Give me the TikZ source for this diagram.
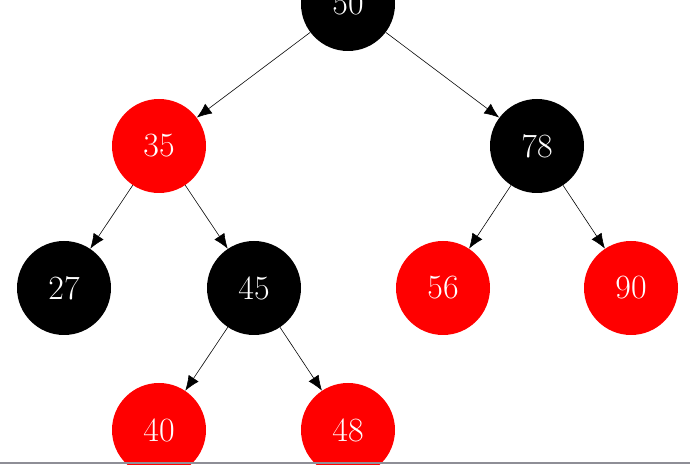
\documentclass[tikz,border=0pt]{standalone}
\usepackage{tikz}
\usetikzlibrary{arrows.meta,positioning}
\definecolor{rbred}{HTML}{FF0000}
\definecolor{rbblack}{HTML}{000000}
\definecolor{rulegray}{HTML}{8E8E96}
\tikzset{
  >={Latex[length=4.5mm,width=3.6mm]},
  rbnode/.style={circle,minimum size=28.2mm,inner sep=0pt,text=white,font=\fontsize{29}{31}\selectfont},
  blacknode/.style={rbnode,fill=rbblack},
  rednode/.style={rbnode,fill=rbred},
  treearrow/.style={->,line width=0.5pt,draw=black}
}
\begin{document}
\begin{tikzpicture}[on grid]
  \useasboundingbox (0,0) rectangle (20.7,13.95);
  \node[blacknode] (n50) at (10.44,13.83) {50};

  \node[rednode,below left=4.26cm and 5.67cm of n50] (n35) {35};
  \node[blacknode,below right=4.26cm and 5.67cm of n50] (n78) {78};

  \node[blacknode,below left=4.26cm and 2.85cm of n35] (n27) {27};
  \node[blacknode,below right=4.26cm and 2.85cm of n35] (n45) {45};
  \node[rednode,below left=4.26cm and 2.82cm of n78] (n56) {56};
  \node[rednode,below right=4.26cm and 2.82cm of n78] (n90) {90};

  \node[rednode,below left=4.26cm and 2.85cm of n45] (n40) {40};
  \node[rednode,below right=4.26cm and 2.82cm of n45] (n48) {48};

  \draw[treearrow] (n50)--(n35);
  \draw[treearrow] (n50)--(n78);
  \draw[treearrow] (n35)--(n27);
  \draw[treearrow] (n35)--(n45);
  \draw[treearrow] (n78)--(n56);
  \draw[treearrow] (n78)--(n90);
  \draw[treearrow] (n45)--(n40);
  \draw[treearrow] (n45)--(n48);

  % bottom rule
  \coordinate (ruleL) at (0,0.05);
  \coordinate (ruleR) at (20.7,0.05);
  \draw[draw=rulegray,line width=1.6pt] (ruleL)--(ruleR);
\end{tikzpicture}
\end{document}
